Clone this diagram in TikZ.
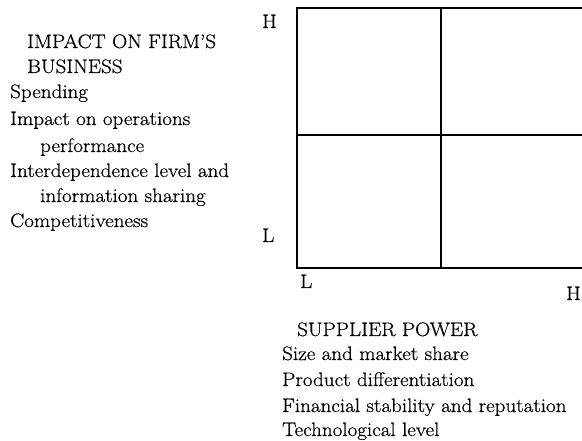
\documentclass[tikz,border=0pt]{standalone}
\usepackage{fontspec}
\setmainfont{Latin Modern Roman}[FakeStretch=1.08,FakeBold=0.6]
\begin{document}
\begin{tikzpicture}[x=1pt,y=-1pt,
  lbl/.style={anchor=base west,inner sep=0pt,font=\fontsize{19.5}{22}\selectfont},
  thick line/.style={line width=2pt},
  thin line/.style={line width=1.3pt}]
\useasboundingbox (0,0) rectangle (582,441);
% grid
\draw[thin line] (297,8) -- (582,8);
\draw[thick line] (297,7) -- (297,269);
\draw[thick line] (296,268) -- (582,268);
\draw[thick line] (297,135) -- (582,135);
\draw[thin line] (441,8) -- (441,268);
% axis ticks
\node[lbl] (yh) at (262,28) {H};
\node[lbl] (yl) at (262,242) {L};
\node[lbl] (xl) at (300,288) {L};
\node[lbl] (xh) at (566,300) {H};
% left text
\node[lbl] (t1) at (27,48) {IMPACT ON FIRM’S};
\node[lbl] (t2) at (27,73) {BUSINESS};
\node[lbl] (t3) at (10,98) {Spending};
\node[lbl] (t4) at (10,125) {Impact on operations};
\node[lbl] (t5) at (40,152) {performance};
\node[lbl] (t6) at (10,177) {Interdependence level and};
\node[lbl] (t7) at (40,202) {information sharing};
\node[lbl] (t8) at (10,227) {Competitiveness};
% bottom text
\node[lbl] (b1) at (297,336) {SUPPLIER POWER};
\node[lbl] (b2) at (282,360) {Size and market share};
\node[lbl] (b3) at (282,386) {Product differentiation};
\node[lbl] (b4) at (282,412) {Financial stability and reputation};
\node[lbl] (b5) at (282,436) {Technological level};
\end{tikzpicture}
\end{document}
